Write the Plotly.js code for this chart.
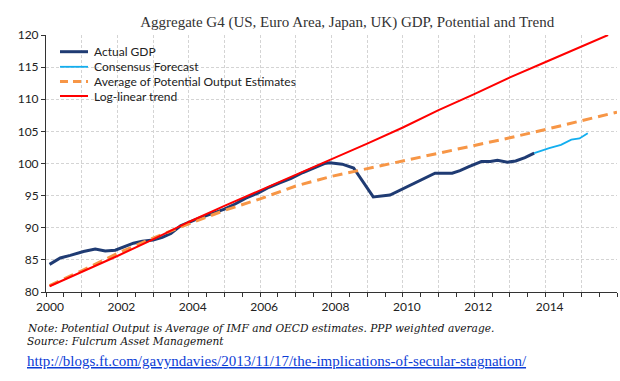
<!DOCTYPE html>
<html>
<head>
<meta charset="utf-8">
<script src="https://cdn.plot.ly/plotly-3.0.1.min.js"></script>
<style>html,body{margin:0;padding:0;background:#fff;}#chart{width:620px;height:381px;}</style>
</head>
<body>
<div id="chart"></div>
<script>
// Actual GDP (index)
const actualX = [2000.1,2000.4,2000.68,2001.05,2001.38,2001.66,2001.94,2002.2,2002.45,2002.7,2003.0,2003.26,2003.5,2003.77,2004.05,2004.34,2004.65,2005.0,2005.3,2005.6,2005.94,2006.25,2006.55,2006.87,2007.2,2007.5,2007.8,2007.95,2008.3,2008.62,2009.17,2009.64,2010.15,2010.62,2010.9,2011.38,2011.6,2011.85,2012.2,2012.45,2012.65,2012.93,2013.16,2013.42,2013.68];
const actualY = [84.3,85.3,85.7,86.3,86.7,86.4,86.5,87.1,87.6,87.9,88.1,88.5,89.1,90.3,91.0,91.6,92.2,92.9,93.7,94.6,95.4,96.3,97.0,97.7,98.6,99.3,100.0,100.1,99.9,99.3,94.8,95.1,96.5,97.8,98.5,98.5,98.9,99.5,100.3,100.3,100.5,100.2,100.4,100.9,101.6];
// Consensus forecast
const forecastX = [2013.68,2014.1,2014.43,2014.72,2014.95,2015.18];
const forecastY = [101.6,102.4,102.9,103.7,103.9,104.7];
// Average of potential output estimates
const potentialX = [2000.1,2001,2002,2003,2004,2005,2006,2007,2008,2009,2010,2011,2012,2013,2014,2015,2016];
const potentialY = [81.0,83.3,86.0,88.4,90.6,92.7,94.5,96.5,98.0,99.2,100.4,101.6,102.7,104.0,105.3,106.6,108.0];
// Log-linear trend
const trendX = [2000.1,2001,2002,2003,2004,2005,2006,2007,2008,2009,2010,2011,2012,2013,2014,2015,2015.75];
const trendY = [80.9,83.1,85.6,88.2,90.9,93.4,95.8,98.3,100.6,103.1,105.6,108.3,110.8,113.4,115.8,118.2,120.0];
// Tick labels
const yearTicks = [2000,2001,2002,2003,2004,2005,2006,2007,2008,2009,2010,2011,2012,2013,2014,2015,2016];
const yearLabels = ['2000','','2002','','2004','','2006','','2008','','2010','','2012','','2014','',''];
// Series names and styles
const seriesNames = ['Actual GDP', 'Consensus Forecast', 'Average of Potential Output Estimates', 'Log-linear trend'];
const seriesLines = [
  {color: '#1F3B73', width: 3},
  {color: '#12AEEF', width: 1.8},
  {color: '#F79646', width: 3, dash: '10px,6px'},
  {color: '#FF0000', width: 2}
];

const traces = [
  {x: actualX, y: actualY, name: seriesNames[0], mode: 'lines', line: seriesLines[0], showlegend: false},
  {x: forecastX, y: forecastY, name: seriesNames[1], mode: 'lines', line: seriesLines[1], showlegend: false},
  {x: potentialX, y: potentialY, name: seriesNames[2], mode: 'lines', line: seriesLines[2], showlegend: false},
  {x: trendX, y: trendY, name: seriesNames[3], mode: 'lines', line: seriesLines[3], showlegend: false}
];

// Compact legend (Excel style): swatch lines and labels
const legendRowY = [0.935, 0.8763, 0.819, 0.7626];
const shapes = [];
const annotations = [];
seriesNames.forEach((nm, i) => {
  shapes.push({type: 'line', xref: 'paper', yref: 'paper', x0: 0.0245, x1: 0.0736, y0: legendRowY[i], y1: legendRowY[i],
               line: Object.assign({}, seriesLines[i], {dash: seriesLines[i].dash ? '8px,5px' : 'solid'})});
  annotations.push({xref: 'paper', yref: 'paper', x: 0.0806, y: legendRowY[i], xanchor: 'left', yanchor: 'middle',
                    showarrow: false, text: nm, font: {family: 'Lato, sans-serif', size: 12, color: '#222'}});
});

annotations.push(
  {xref: 'paper', yref: 'paper', x: -0.037, y: -0.140, xanchor: 'left', yanchor: 'middle', showarrow: false,
   text: '<i>Note: Potential Output is Average of IMF and OECD estimates. PPP weighted average.</i>',
   font: {family: '"DejaVu Serif", serif', size: 10.6, color: '#111'}},
  {xref: 'paper', yref: 'paper', x: -0.037, y: -0.1907, xanchor: 'left', yanchor: 'middle', showarrow: false,
   text: '<i>Source: Fulcrum Asset Management</i>',
   font: {family: '"DejaVu Serif", serif', size: 10.6, color: '#111'}},
  {xref: 'paper', yref: 'paper', x: -0.037, y: -0.268, xanchor: 'left', yanchor: 'middle', showarrow: false,
   text: '<u>http://blogs.ft.com/gavyndavies/2013/11/17/the-implications-of-secular-stagnation/</u>',
   font: {family: '"Liberation Serif", serif', size: 15, color: '#0B3CD6'}}
);

const layout = {
  width: 620, height: 381,
  margin: {l: 46, r: 3, t: 35, b: 89},
  paper_bgcolor: '#fff', plot_bgcolor: '#fff',
  font: {family: 'Lato, sans-serif', size: 12, color: '#222'},
  title: {text: 'Aggregate G4 (US, Euro Area, Japan, UK) GDP, Potential and Trend',
          font: {family: '"Liberation Serif", serif', size: 15, color: '#333'},
          xref: 'container', x: 0.56, xanchor: 'center', yref: 'container', y: 0.942, yanchor: 'middle'},
  showlegend: false,
  xaxis: {range: [2000, 2016], tickmode: 'array', tickvals: yearTicks, ticktext: yearLabels,
          showgrid: true, gridcolor: '#D4D4D4', griddash: '3px,2px', gridwidth: 1,
          showline: true, linecolor: '#333', linewidth: 1, ticks: 'outside', ticklen: 4, tickcolor: '#333',
          ticklabelshift: 4, zeroline: false, tickfont: {size: 12, color: '#222'},
          minor: {tickmode: 'linear', tick0: 2000, dtick: 0.5, ticks: 'outside', ticklen: 4, tickcolor: '#333', showgrid: false}},
  yaxis: {range: [80, 120], dtick: 5, showgrid: true, gridcolor: '#D4D4D4', griddash: '3px,2px', gridwidth: 1,
          showline: true, linecolor: '#333', linewidth: 1, ticks: 'outside', ticklen: 4, tickcolor: '#333',
          zeroline: false, tickfont: {size: 12, color: '#222'}},
  shapes: shapes,
  annotations: annotations
};

Plotly.newPlot('chart', traces, layout, {displayModeBar: false, staticPlot: true});
</script>
</body>
</html>
